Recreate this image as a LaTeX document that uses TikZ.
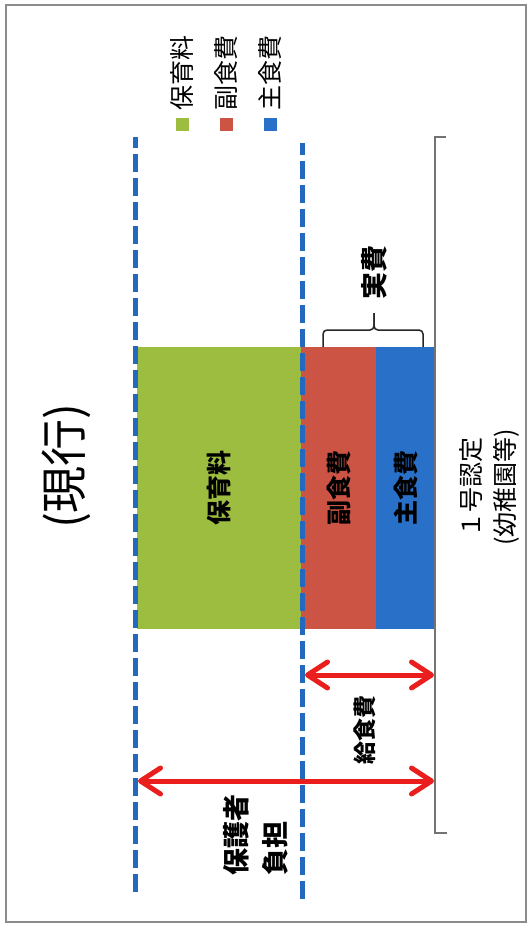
\documentclass[tikz,border=0pt]{standalone}
\usepackage{fontspec}
\setmainfont{Noto Sans CJK JP}
\usetikzlibrary{arrows.meta}
\definecolor{cgreen}{RGB}{157,189,64}
\definecolor{cred}{RGB}{204,84,68}
\definecolor{cblue}{RGB}{40,112,200}
\definecolor{cdash}{RGB}{35,105,190}
\definecolor{cframe}{RGB}{140,140,140}
\definecolor{carrow}{RGB}{235,30,30}
\tikzset{
  vlabel/.style={rotate=90, inner sep=0, font=\bfseries\fontsize{25}{28}\selectfont},
  legtext/.style={rotate=90, anchor=west, inner sep=0, font=\fontsize{25}{28}\selectfont},
  legbox/.style={minimum size=13pt, inner sep=0},
  dashline/.style={draw=cdash, line width=5pt, dash pattern=on 18pt off 6pt},
  redarrow/.style={draw=carrow, line width=5pt, {Straight Barb[length=20pt,width=26pt,round]}-{Straight Barb[length=20pt,width=26pt,round]}},
  brk/.style={draw=black!85, line width=1.5pt, rounded corners=4pt}
}
\begin{document}
\begin{tikzpicture}[x=1pt,y=-1pt]
\useasboundingbox (0,0) rectangle (529,925);
\fill[white] (0,0) rectangle (529,925);
% frame
\node[draw=cframe, line width=1.5pt, inner sep=0, minimum width=520pt, minimum height=917pt] (frame) at (266,463.5) {};
% bars
\fill[cgreen] (137,347) rectangle (301,629);
\fill[cred] (301,347) rectangle (376,629);
\fill[cblue] (376,347) rectangle (434,629);
\node[vlabel] (hoiku) at (219,488) {保育料};
\node[vlabel] (fuku) at (339,488) {副食費};
\node[vlabel] (shu) at (406,488) {主食費};
% dashed lines
\coordinate (d1t) at (135,137);
\coordinate (d1b) at (135,895);
\coordinate (d2t) at (302,143);
\coordinate (d2b) at (302,903);
\draw[dashline, dash phase=7pt] (d1t) -- (d1b);
\draw[dashline, dash phase=6pt] (d2t) -- (d2b);
% bracket line
\coordinate (bt) at (435,137);
\coordinate (bb) at (435,833);
\draw[draw=black!55, line width=1.5pt] (446,137) -- (bt) -- (bb) -- (447,833);
% brace
\coordinate (brL) at (323,347);
\coordinate (brR) at (423,347);
\coordinate (brT) at (374,313);
\draw[brk] (brL) -- (323,330) -- (374,330) -- (brT);
\draw[brk] (brR) -- (423,330) -- (374,330) -- (brT);
\node[vlabel, font=\bfseries\fontsize{27}{30}\selectfont] (jippi) at (374,272) {実費};
% legend
\node[legbox, fill=cgreen] (lg1) at (182,125) {};
\node[legbox, fill=cred] (lg2) at (226,125) {};
\node[legbox, fill=cblue] (lg3) at (270,125) {};
\node[legtext] (lt1) at (182,111) {保育料};
\node[legtext] (lt2) at (226,111) {副食費};
\node[legtext] (lt3) at (270,111) {主食費};
% title
\node[rotate=90, inner sep=0, font=\fontsize{47}{50}\selectfont] (title) at (66,466) {(現行)};
% category label
\node[rotate=90, inner sep=0, align=center, font=\fontsize{25}{34}\selectfont] (cat) at (489,487) {１号認定\\(幼稚園等)};
% arrows
\coordinate (a1s) at (305,675);
\coordinate (a1e) at (434,675);
\coordinate (a2s) at (138,781);
\coordinate (a2e) at (434,781);
\draw[redarrow] (a1s) -- (a1e);
\draw[redarrow] (a2s) -- (a2e);
\node[vlabel, font=\bfseries\fontsize{23}{26}\selectfont] (kyushoku) at (365,730) {給食費};
\node[vlabel, align=left, font=\bfseries\fontsize{27}{39}\selectfont] (hogosha) at (255.5,835) {保護者\\負担};
\end{tikzpicture}
\end{document}
